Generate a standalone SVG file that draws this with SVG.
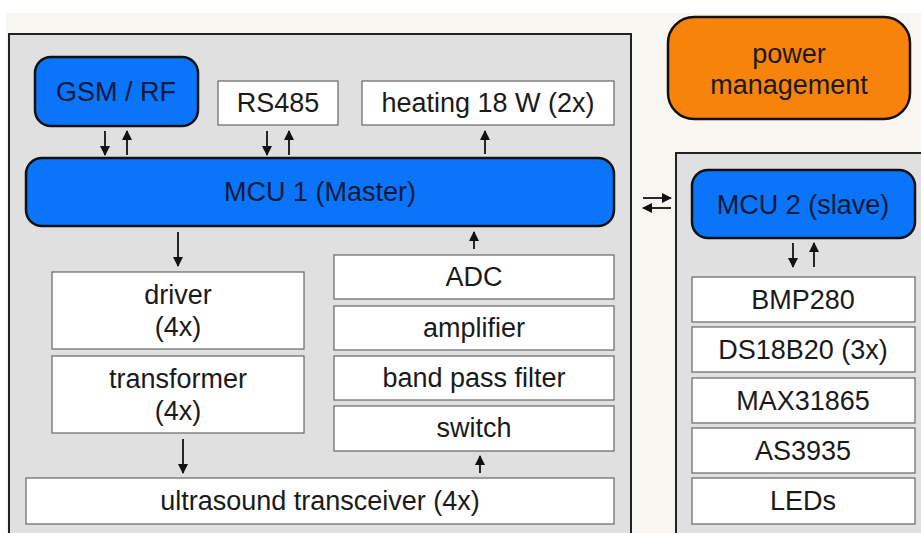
<svg xmlns="http://www.w3.org/2000/svg" width="921" height="533" viewBox="0 0 921 533">
  <defs>
    <marker id="ah" viewBox="0 0 10 10" refX="9" refY="5" markerWidth="10" markerHeight="11" markerUnits="userSpaceOnUse" orient="auto">
      <path d="M0,0 L10,5 L0,10 Z" fill="#111"/>
    </marker>
    <style>
      text { font-family: "Liberation Sans", Arial, sans-serif; font-size: 27px; fill: #1a1a1a; text-anchor: middle; dominant-baseline: central; }
      .frame { fill: #e0e0e0; stroke: #222; stroke-width: 2; }
      .blue { fill: #0a74fa; stroke: #111; stroke-width: 2.5; }
      .orange { fill: #f7830c; stroke: #111; stroke-width: 2.5; }
      .box { fill: #fff; stroke: #666; stroke-width: 1.2; }
      .on-blue { fill: #0b1a38; }
      .conn line { stroke: #111; stroke-width: 1.8; marker-end: url(#ah); }
    </style>
  </defs>

  <!-- page background -->
  <rect x="0" y="0" width="921" height="533" fill="#ffffff"/>
  <rect x="6" y="13" width="915" height="520" fill="#f8f6f1"/>

  <!-- frames -->
  <rect id="frame-main" class="frame" x="9" y="34" width="622" height="520"/>
  <rect id="frame-slave" class="frame" x="676" y="153" width="260" height="400"/>

  <g id="gsm"><rect class="blue" x="35" y="57" width="163" height="69" rx="16"/><text class="on-blue" x="116" y="92">GSM / RF</text></g>
  <g id="rs485"><rect class="box" x="218" y="81" width="120" height="44"/><text x="278" y="103">RS485</text></g>
  <g id="heating"><rect class="box" x="362" y="81" width="252" height="44"/><text x="488" y="103">heating 18 W (2x)</text></g>
  <g id="mcu1"><rect class="blue" x="26" y="158" width="588" height="68" rx="16"/><text class="on-blue" x="320" y="192">MCU 1 (Master)</text></g>

  <g id="driver"><rect class="box" x="52" y="272" width="252" height="77"/><text x="178" y="295">driver</text><text x="178" y="327">(4x)</text></g>
  <g id="transformer"><rect class="box" x="52" y="356" width="252" height="77"/><text x="178" y="379">transformer</text><text x="178" y="411">(4x)</text></g>

  <g id="adc"><rect class="box" x="334" y="255" width="280" height="44"/><text x="474" y="277">ADC</text></g>
  <g id="amplifier"><rect class="box" x="334" y="306" width="280" height="44"/><text x="474" y="328">amplifier</text></g>
  <g id="bandpass"><rect class="box" x="334" y="356" width="280" height="44"/><text x="474" y="378">band pass filter</text></g>
  <g id="switch"><rect class="box" x="334" y="406" width="280" height="45"/><text x="474" y="428">switch</text></g>

  <g id="transceiver"><rect class="box" x="26" y="478" width="588" height="46"/><text x="320" y="501">ultrasound transceiver (4x)</text></g>

  <g id="power"><rect class="orange" x="668" y="17" width="242" height="102" rx="26"/><text x="789" y="54">power</text><text x="789" y="85">management</text></g>
  <g id="mcu2"><rect class="blue" x="692" y="170" width="223" height="68" rx="16"/><text class="on-blue" x="803" y="205">MCU 2 (slave)</text></g>

  <g id="bmp280"><rect class="box" x="692" y="277" width="223" height="45"/><text x="803" y="300">BMP280</text></g>
  <g id="ds18b20"><rect class="box" x="692" y="327" width="223" height="45"/><text x="803" y="350">DS18B20 (3x)</text></g>
  <g id="max31865"><rect class="box" x="692" y="378" width="223" height="45"/><text x="803" y="401">MAX31865</text></g>
  <g id="as3935"><rect class="box" x="692" y="428" width="223" height="45"/><text x="803" y="451">AS3935</text></g>
  <g id="leds"><rect class="box" x="692" y="478" width="223" height="46"/><text x="803" y="501">LEDs</text></g>

  <g id="connectors" class="conn">
    <!-- GSM <-> MCU1 -->
    <line x1="105" y1="131" x2="105" y2="155"/>
    <line x1="127" y1="155" x2="127" y2="131"/>
    <!-- RS485 <-> MCU1 -->
    <line x1="267" y1="131" x2="267" y2="155"/>
    <line x1="289" y1="155" x2="289" y2="131"/>
    <!-- MCU1 -> heating -->
    <line x1="485" y1="154" x2="485" y2="131"/>
    <!-- MCU1 -> driver -->
    <line x1="178" y1="232" x2="178" y2="266"/>
    <!-- transformer -> transceiver -->
    <line x1="183" y1="439" x2="183" y2="473"/>
    <!-- transceiver -> switch -->
    <line x1="480" y1="473" x2="480" y2="456"/>
    <!-- ADC -> MCU1 -->
    <line x1="474" y1="249" x2="474" y2="232"/>
    <!-- MCU1 <-> MCU2 -->
    <line x1="643" y1="198" x2="671" y2="198"/>
    <line x1="671" y1="208" x2="643" y2="208"/>
    <!-- MCU2 <-> sensors -->
    <line x1="793" y1="243" x2="793" y2="267"/>
    <line x1="814" y1="267" x2="814" y2="243"/>
  </g>
</svg>
